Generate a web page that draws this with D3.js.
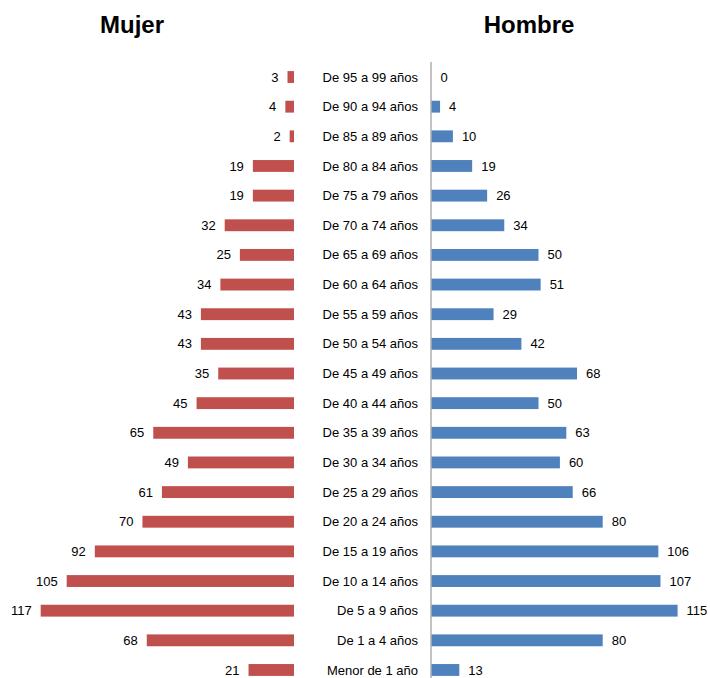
<!DOCTYPE html>
<html>
<head>
<meta charset="utf-8">
<script src="https://cdn.jsdelivr.net/npm/d3@7"></script>
<style>
  body { margin: 0; background: #fff; }
  text { font-family: "Liberation Sans", Arial, sans-serif; }
</style>
</head>
<body>
<div id="chart"></div>
<script>
// age groups, top to bottom
const ageGroups = ["De 95 a 99 años", "De 90 a 94 años", "De 85 a 89 años", "De 80 a 84 años",
    "De 75 a 79 años", "De 70 a 74 años", "De 65 a 69 años", "De 60 a 64 años",
    "De 55 a 59 años", "De 50 a 54 años", "De 45 a 49 años", "De 40 a 44 años",
    "De 35 a 39 años", "De 30 a 34 años", "De 25 a 29 años", "De 20 a 24 años",
    "De 15 a 19 años", "De 10 a 14 años", "De 5 a 9 años", "De 1 a 4 años", "Menor de 1 año"]
const mujer = [3, 4, 2, 19, 19, 32, 25, 34, 43, 43, 35, 45, 65, 49, 61, 70, 92, 105, 117, 68, 21]
const hombre = [0, 4, 10, 19, 26, 34, 50, 51, 29, 42, 68, 50, 63, 60, 66, 80, 106, 107, 115, 80, 13]

const data = ageGroups.map((g, i) => ({ group: g, m: mujer[i], h: hombre[i] }))

const width = 710, height = 678

const svg = d3.select("#chart")
    .append("svg")
        .attr("width", width)
        .attr("height", height)

// scales
const y = d3.scaleBand()
    .domain(ageGroups)
    .range([62.2, 684.8])
    .paddingInner(0.6)
    .paddingOuter(0.3)

const xL = d3.scaleLinear()
    .domain([0, 120])
    .range([294, 294 - 120 * 2.165])

const xR = d3.scaleLinear()
    .domain([0, 120])
    .range([431.5, 431.5 + 120 * 2.14])

// titles
svg.append("text")
    .attr("x", 132)
    .attr("y", 33)
    .attr("text-anchor", "middle")
    .style("font-size", "24px")
    .style("font-weight", "bold")
    .text("Mujer")

svg.append("text")
    .attr("x", 529)
    .attr("y", 33)
    .attr("text-anchor", "middle")
    .style("font-size", "24px")
    .style("font-weight", "bold")
    .text("Hombre")

// Mujer bars
svg.append("g").selectAll("rect")
    .data(data)
    .join("rect")
        .attr("x", d => xL(d.m))
        .attr("y", d => y(d.group))
        .attr("width", d => xL(0) - xL(d.m))
        .attr("height", y.bandwidth())
        .attr("fill", "#C0504D")

svg.append("g").selectAll("text")
    .data(data)
    .join("text")
        .attr("x", d => xL(d.m) - 9)
        .attr("y", d => y(d.group) + y.bandwidth() / 2)
        .attr("dy", "0.35em")
        .attr("text-anchor", "end")
        .style("font-size", "13px")
        .attr("fill", "#000")
        .text(d => d.m)

// Hombre bars
svg.append("g").selectAll("rect")
    .data(data)
    .join("rect")
        .attr("x", xR(0))
        .attr("y", d => y(d.group))
        .attr("width", d => xR(d.h) - xR(0))
        .attr("height", y.bandwidth())
        .attr("fill", "#4F81BD")

svg.append("g").selectAll("text")
    .data(data)
    .join("text")
        .attr("x", d => xR(d.h) + 9)
        .attr("y", d => y(d.group) + y.bandwidth() / 2)
        .attr("dy", "0.35em")
        .style("font-size", "13px")
        .attr("fill", "#000")
        .text(d => d.h)

// center axis line and age labels
svg.append("line")
    .attr("x1", xR(0) - 0.5)
    .attr("x2", xR(0) - 0.5)
    .attr("y1", 62)
    .attr("y2", height)
    .style("stroke", "#868686")
    .style("stroke-width", 1)

svg.append("g").selectAll("text")
    .data(data)
    .join("text")
        .attr("x", 418)
        .attr("y", d => y(d.group) + y.bandwidth() / 2)
        .attr("dy", "0.35em")
        .attr("text-anchor", "end")
        .style("font-size", "13px")
        .attr("fill", "#000")
        .text(d => d.group)
</script>
</body>
</html>
